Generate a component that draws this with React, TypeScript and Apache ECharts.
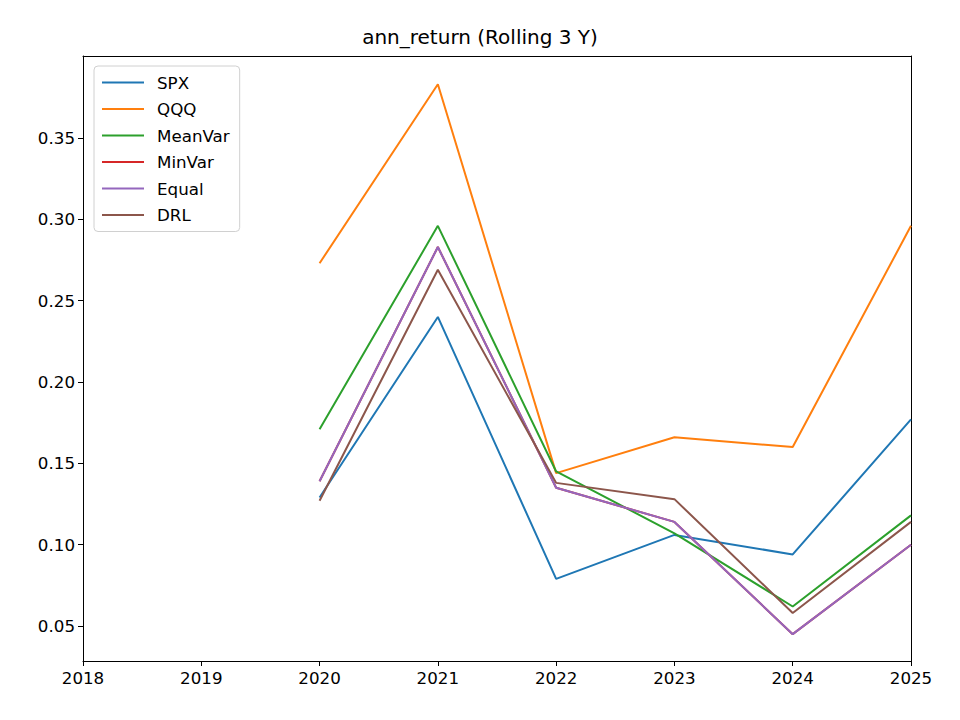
import React, { useEffect, useRef } from 'react'
import * as echarts from 'echarts'

const YEARS = [2020, 2021, 2022, 2023, 2024, 2025]
const SERIES_NAMES = ['SPX', 'QQQ', 'MeanVar', 'MinVar', 'Equal', 'DRL']
const COLORS = ['#1f77b4', '#ff7f0e', '#2ca02c', '#d62728', '#9467bd', '#8c564b']
const SPX = [0.129, 0.240, 0.079, 0.106, 0.094, 0.177]
const QQQ = [0.273, 0.383, 0.144, 0.166, 0.160, 0.296]
const MEANVAR = [0.171, 0.296, 0.145, 0.107, 0.062, 0.118]
const MINVAR = [0.139, 0.283, 0.135, 0.114, 0.045, 0.100]
const EQUAL = [0.139, 0.283, 0.135, 0.114, 0.045, 0.100]
const DRL = [0.127, 0.269, 0.138, 0.128, 0.058, 0.114]
const Y_TICKS = [0.05, 0.10, 0.15, 0.20, 0.25, 0.30, 0.35]

const FONT = "'DejaVu Sans', sans-serif"

export default function App() {
  const chartRef = useRef<HTMLDivElement>(null)

  useEffect(() => {
    document.body.style.margin = '0'
    if (!chartRef.current) return
    const chart = echarts.init(chartRef.current, undefined, { renderer: 'svg' })
    const values = [SPX, QQQ, MEANVAR, MINVAR, EQUAL, DRL]

    chart.setOption({
      animation: false,
      title: {
        text: 'ann_return (Rolling 3 Y)',
        left: 'center',
        top: 22,
        textStyle: { fontFamily: FONT, fontSize: 20, fontWeight: 'normal', color: '#000' }
      },
      legend: {
        orient: 'vertical',
        left: 94,
        top: 66,
        padding: [8, 10, 8, 8],
        itemGap: 9.5,
        itemWidth: 42,
        itemHeight: 2,
        icon: 'rect',
        borderColor: '#d0d0d0',
        borderWidth: 1,
        borderRadius: 4,
        backgroundColor: 'rgba(255,255,255,0.8)',
        textStyle: { fontFamily: FONT, fontSize: 16.7, color: '#000', lineHeight: 17, padding: [0, 0, 0, 8] },
        data: SERIES_NAMES
      },
      grid: { left: 83, right: 49, top: 56, bottom: 59 },
      xAxis: [
        {
          type: 'value',
          min: 2018,
          max: 2025,
          interval: 1,
          axisLine: { lineStyle: { color: '#000' } },
          axisTick: { lineStyle: { color: '#000' }, length: 5 },
          axisLabel: { fontFamily: FONT, fontSize: 16.7, color: '#000', margin: 8, formatter: (v: number) => String(v) },
          splitLine: { show: false }
        },
        {
          type: 'value',
          position: 'top',
          min: 2018,
          max: 2025,
          axisLine: { show: true, onZero: false, lineStyle: { color: '#000' } },
          axisTick: { show: false },
          axisLabel: { show: false },
          splitLine: { show: false }
        }
      ],
      yAxis: [
        {
          type: 'value',
          min: 0.0285,
          max: 0.4004,
          axisLine: { show: true, lineStyle: { color: '#000' } },
          axisTick: { show: true, customValues: Y_TICKS, lineStyle: { color: '#000' }, length: 5 },
          axisLabel: {
            customValues: Y_TICKS,
            fontFamily: FONT,
            fontSize: 16.7,
            color: '#000',
            margin: 8,
            formatter: (v: number) => v.toFixed(2)
          },
          splitLine: { show: false }
        },
        {
          type: 'value',
          position: 'right',
          min: 0.0285,
          max: 0.4004,
          axisLine: { show: true, onZero: false, lineStyle: { color: '#000' } },
          axisTick: { show: false },
          axisLabel: { show: false },
          splitLine: { show: false }
        }
      ],
      series: SERIES_NAMES.map((name, i) => ({
        name,
        type: 'line',
        data: YEARS.map((y, j) => [y, values[i][j]]),
        symbol: 'none',
        lineStyle: { width: 2, color: COLORS[i] },
        itemStyle: { color: COLORS[i] }
      }))
    })

    return () => chart.dispose()
  }, [])

  return <div ref={chartRef} style={{ width: '960px', height: '720px', background: '#fff' }} />
}
